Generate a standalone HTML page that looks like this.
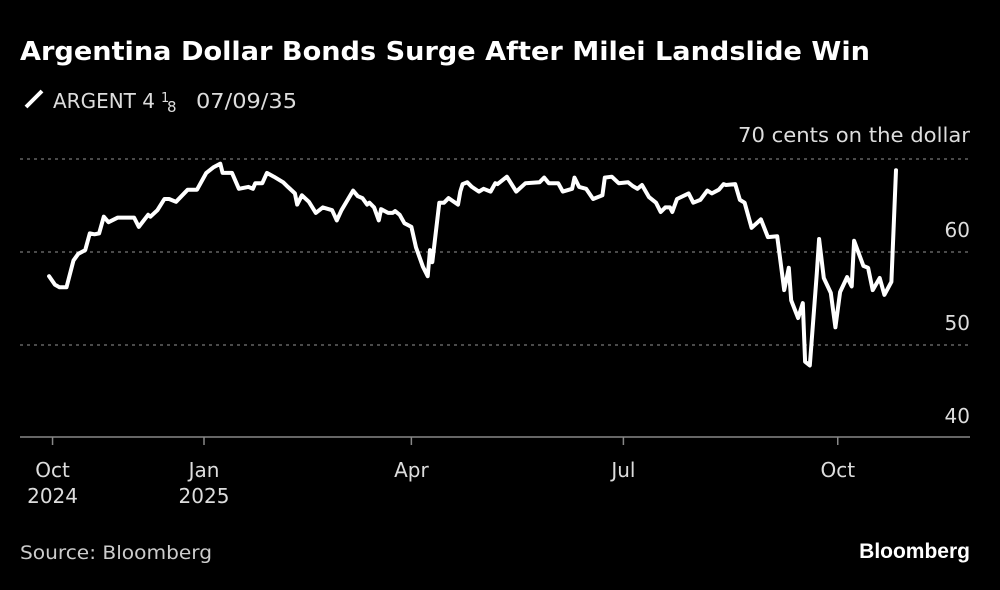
<!DOCTYPE html>
<html><head><meta charset="utf-8"><style>
html,body{margin:0;padding:0;background:#000;}
body{width:1000px;height:585px;overflow:hidden;font-family:"Liberation Sans","DejaVu Sans",sans-serif;color:#fff;}
</style></head><body>
<svg width="1000" height="585" viewBox="0 0 1000 585" id="svg">
<text x="20" y="60" font-size="26" font-weight="bold" fill="#fff" font-family="DejaVu Sans, sans-serif" textLength="850" lengthAdjust="spacingAndGlyphs">Argentina Dollar Bonds Surge After Milei Landslide Win</text>
<g>
<line x1="26" y1="107" x2="42" y2="91" stroke="#fff" stroke-width="4"/>
<text x="53" y="108" font-size="20" fill="#ddd" font-family="DejaVu Sans, sans-serif">ARGENT 4<tspan x="161" font-size="13" dy="-6">1</tspan><tspan x="167" font-size="15" dy="10">8</tspan><tspan x="196" dy="-4" textLength="101" lengthAdjust="spacingAndGlyphs">07/09/35</tspan></text>
</g>
<text x="970" y="142" font-size="20" fill="#ddd" text-anchor="end" font-family="DejaVu Sans, sans-serif" textLength="232" lengthAdjust="spacingAndGlyphs">70 cents on the dollar</text>
<g id="grid"></g><g id="xaxis"></g><g id="plot"></g>
<text x="20" y="559" font-size="19" fill="#ccc" font-family="DejaVu Sans, sans-serif" textLength="192" lengthAdjust="spacingAndGlyphs">Source: Bloomberg</text>
<text x="970" y="558" font-size="21" font-weight="bold" fill="#fff" text-anchor="end">Bloomberg</text>
</svg>
<script>
const days=[-66.5,-64,-62,-59,-56,-54,-51,-49,-47,-45,-43,-41,-37,-30,-28,-24,-23,-20,-17,-15,-12,-7,-3,1,4,7,8,12,15,19,21,22,25,27,30,34,36,39,40,42,45,48,51,55,57,59,64,66,68,70,71,73,75,76,79,81,82,84,86,89,91,94,96,97,98,101,103,105,109,110,111,113,115,118,120,123,125,126,130,134,138,144,146,148,152,154,158,159,161,164,167,171,172,175,178,182,184,186,188,191,194,196,198,200,201,203,208,210,213,216,218,221,223,224,228,230,232,235,239,242,246,249,251,252,255,257,258,260,263,264,266,269,271,273,276,278,279,283,285,287,290,292,295,297];
const values=[57.4,56.5,56.2,56.2,59.1,59.8,60.2,62.0,61.9,62.0,63.8,63.2,63.7,63.7,62.7,64.0,63.8,64.5,65.7,65.7,65.4,66.7,66.7,68.5,69.1,69.5,68.5,68.5,66.8,67.0,66.8,67.4,67.4,68.5,68.1,67.5,67.0,66.3,65.1,66.1,65.4,64.2,64.8,64.5,63.4,64.5,66.6,66.0,65.8,65.1,65.3,64.8,63.4,64.6,64.2,64.2,64.4,64.0,63.1,62.7,60.5,58.4,57.4,60.2,58.9,65.3,65.3,65.8,65.1,66.5,67.3,67.5,67.0,66.5,66.8,66.5,67.4,67.3,68.1,66.5,67.4,67.5,68.0,67.4,67.4,66.5,66.8,68.0,67.0,66.8,65.7,66.1,68.0,68.1,67.4,67.5,67.1,66.8,67.2,65.9,65.3,64.3,64.8,64.8,64.3,65.7,66.3,65.3,65.6,66.6,66.3,66.7,67.3,67.2,67.3,65.6,65.3,62.6,63.5,61.6,61.7,55.9,58.3,54.8,52.9,54.5,48.2,47.8,57.7,61.4,57.2,55.6,51.9,55.7,57.3,56.3,61.2,58.5,58.3,55.9,57.2,55.4,56.8,68.8];
const tickDays=[-65,0,89,180,272];
const tickTop=["Oct","Jan","Apr","Jul","Oct"];
const tickBottom=["2024","2025","","",""];
const yTicks=[40,50,60,70];
const yLabels=["40","50","60",""];
const X=d=>204+d*2.33;
const Y=v=>159+(70-v)*9.3;
const NS="http://www.w3.org/2000/svg";
function mk(tag,attrs,parent){const e=document.createElementNS(NS,tag);for(const k in attrs)e.setAttribute(k,attrs[k]);parent.appendChild(e);return e;}
const grid=document.getElementById('grid'),xa=document.getElementById('xaxis'),plot=document.getElementById('plot');
yTicks.forEach((v,i)=>{
 if(v>40){const l=mk('line',{x1:20,x2:970,y1:Y(v),y2:Y(v),stroke:'#777','stroke-width':1.2,'stroke-dasharray':'3,4'},grid);
 
 }
 if(yLabels[i]){const t=mk('text',{x:970,y:Y(v)-15,'font-size':20,fill:'#ddd','text-anchor':'end','font-family':'DejaVu Sans, sans-serif'},grid);t.textContent=yLabels[i];
 
 }
});
const ax=mk('line',{x1:20,x2:970,y1:437,y2:437,stroke:'#888','stroke-width':1.5},xa);


tickDays.forEach((d,i)=>{
 const tk=mk('line',{x1:X(d),x2:X(d),y1:437,y2:445,stroke:'#888','stroke-width':1.5},xa);
 
 
 const t=mk('text',{x:X(d),y:477,'font-size':20,fill:'#ddd','text-anchor':'middle','font-family':'DejaVu Sans, sans-serif'},xa);t.textContent=tickTop[i];
 
 
 if(tickBottom[i]){const t2=mk('text',{x:X(d),y:503,'font-size':20,fill:'#ddd','text-anchor':'middle','font-family':'DejaVu Sans, sans-serif'},xa);t2.textContent=tickBottom[i];
 
 }
});
const pts=days.map((d,i)=>X(d).toFixed(1)+','+Y(values[i]).toFixed(1)).join(' ');
const pl=mk('polyline',{points:pts,fill:'none',stroke:'#fff','stroke-width':4,'stroke-linejoin':'round','stroke-linecap':'round'},plot);


</script>
</body></html>
